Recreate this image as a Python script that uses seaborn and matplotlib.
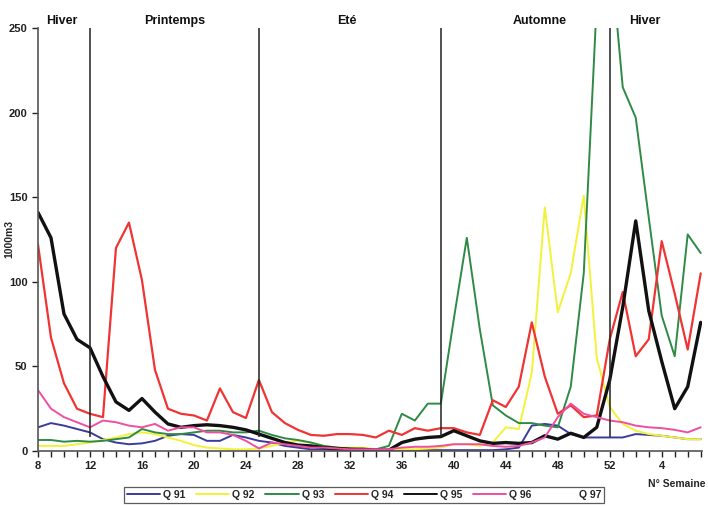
import numpy as np
import pandas as pd
import matplotlib
matplotlib.use("Agg")
import matplotlib.pyplot as plt
from matplotlib.lines import Line2D
from matplotlib.transforms import blended_transform_factory
import seaborn as sns

# ---- data -------------------------------------------------------------
weeks = list(range(8, 53)) + list(range(1, 8))

q91 = [14, 16.5, 15, 13, 11, 7, 5, 4, 4.5, 6, 9, 10, 9.5, 6, 6, 9.5, 8, 6, 5, 3,
       2, 1, 1, 0.5, 0.5, 0.5, 0.5, 0.5, 0.5, 0.5, 0.5, 0.5, 0.5, 0.5, 0.5, 0.5,
       1, 2, 15, 16, 15, 10, 8, 8, 8,
       8, 10, 9.5, 9, 8, 7, 7]
q92 = [3, 3, 3, 4, 5, 6.5, 8, 10, 11, 10, 8, 6, 3.5, 2, 1.5, 1, 1, 1.5, 3, 5,
       6, 5, 3, 2, 2, 2, 1, 1, 1, 1, 1.5, 2, 4, 4, 3, 5,
       14, 13, 46, 144, 82, 105, 151, 55, 26,
       16, 12, 10, 9, 8, 7, 7]
q93 = [6.5, 6.5, 5.5, 6, 5.5, 6, 7, 8, 13, 11, 10, 10, 11, 12, 12, 11, 11, 12, 9.5, 7.5,
       6.5, 5, 3, 2, 1.5, 1, 1, 3, 22, 18, 28, 28, 78, 126, 72, 27,
       21, 16.5, 16.5, 15, 14, 38, 105, 265, 300,
       215, 197, 138, 80, 56, 128, 117]
q94 = [122, 67, 40, 25, 22, 20, 120, 135, 101, 48, 25, 22, 21, 18, 37, 23, 19.5, 42, 23, 16.5,
       12.5, 9.5, 9, 10, 10, 9.5, 8, 12, 9.5, 13.5, 12, 13.5, 13.5, 11, 9.5, 30,
       26, 38, 76, 44, 22, 27, 20, 21, 66,
       94, 56, 66, 124, 93, 60, 105]
q95 = [141, 126, 81, 66, 61, 44, 29, 24, 31, 23, 16, 14, 15, 15.5, 15, 14, 12.5, 10, 7.5, 5,
       3.5, 3, 2, 1.5, 1, 1, 0.5, 0.5, 5, 7, 8, 8.5, 12, 9, 6, 4.5,
       5, 4.5, 5, 9, 7, 10.5, 8, 14, 42,
       85, 136, 83, 53, 25, 38, 76]
q96 = [36, 25, 20, 17, 14, 18, 17, 15, 14, 16, 12, 14, 14, 11, 11, 9.5, 6, 1.5, 5, 4,
       3, 2, 2, 1.5, 1, 1, 1, 1, 2, 2.5, 2.5, 3, 4, 4, 4, 3,
       2.5, 3, 5, 8, 20, 28, 22, 20, 18,
       17, 15, 14, 13.5, 12.5, 11, 14]
q97 = [np.nan] * len(weeks)

series_names = ["Q 91", "Q 92", "Q 93", "Q 94", "Q 95", "Q 96", "Q 97"]
series_values = [q91, q92, q93, q94, q95, q96, q97]
series_colors = ["#3b3b9c", "#f2f23a", "#2f8a45", "#f03434", "#111111", "#ee4fa0", "#ffffff"]
series_widths = [1.4, 1.4, 1.4, 1.6, 2.4, 1.4, 1.4]

season_labels = ["Hiver", "Printemps", "Eté", "Automne", "Hiver"]
season_x = [1.85, 10.5, 23.8, 38.6, 46.7]
boundary_weeks_idx = [4, 17, 31, 44]   # weeks 12, 25, 39, 52

tick_idx = list(range(0, len(weeks), 4))
tick_labels = [str(weeks[i]) for i in tick_idx]

# ---- build long frame ------------------------------------------------
idx = np.arange(len(weeks))
frames = []
for name, vals in zip(series_names, series_values):
    frames.append(pd.DataFrame({"idx": idx, "week": weeks, "value": vals, "serie": name}))
df = pd.concat(frames, ignore_index=True)

# ---- plot --------------------------------------------------------------
sns.set_style("ticks")
plt.rcParams["font.family"] = ["Liberation Sans", "DejaVu Sans"]
plt.rcParams["font.weight"] = "bold"

fig = plt.figure(figsize=(7.08, 5.07), dpi=100)
ax = fig.add_axes([38 / 708, 1 - 451 / 507, (702 - 38) / 708, (451 - 28) / 507])

handles = []
for name, col, lw in zip(series_names, series_colors, series_widths):
    sub = df[df["serie"] == name]
    if sub["value"].notna().any():
        sns.lineplot(data=sub, x="idx", y="value", color=col, linewidth=lw,
                     ax=ax, legend=False, estimator=None, sort=True)
    handles.append(Line2D([0], [0], color=col, lw=1.4))

ax.vlines(boundary_weeks_idx, 8, 250, colors="#222222", linewidth=1.1, zorder=5)

ax.set_xlim(0, 51.1)
ax.set_ylim(0, 250)
ax.set_yticks([0, 50, 100, 150, 200, 250])
ax.set_xticks(tick_idx)
ax.set_xticklabels(tick_labels)
ax.set_xticks(idx, minor=True)
ax.tick_params(axis="both", which="major", labelsize=8, length=4, width=1, colors="#222222")
ax.tick_params(axis="x", which="minor", length=4, width=1, colors="#222222")
for lab in ax.get_xticklabels() + ax.get_yticklabels():
    lab.set_fontweight("bold")
ax.set_xlabel("")
ax.set_ylabel("1000m3", fontsize=7.5, fontweight="bold")
ax.yaxis.set_label_coords(-24 / 664, 0.5)
sns.despine(ax=ax)
for sp in ["left", "bottom"]:
    ax.spines[sp].set_color("#555555")
    ax.spines[sp].set_linewidth(1.2)

tr = blended_transform_factory(ax.transData, ax.transAxes)
for lab, xx in zip(season_labels, season_x):
    ax.text(xx, 1.017, lab, transform=tr, ha="center", va="center",
            fontsize=9, fontweight="bold", color="#111111")

fig.text(706 / 708, 1 - 484 / 507, "N° Semaine", ha="right", va="center",
         fontsize=7.5, fontweight="bold")

leg = fig.legend(handles, series_names, loc="center", ncol=7,
                 bbox_to_anchor=(364 / 708, 1 - 495 / 507), frameon=True,
                 fancybox=False, edgecolor="#333333", fontsize=7.5,
                 handlelength=3.2, columnspacing=1.0, handletextpad=0.3,
                 borderpad=0.25, borderaxespad=0)
leg.get_frame().set_linewidth(0.9)
for t in leg.get_texts():
    t.set_fontweight("bold")

fig.savefig("out.png", dpi=100)
